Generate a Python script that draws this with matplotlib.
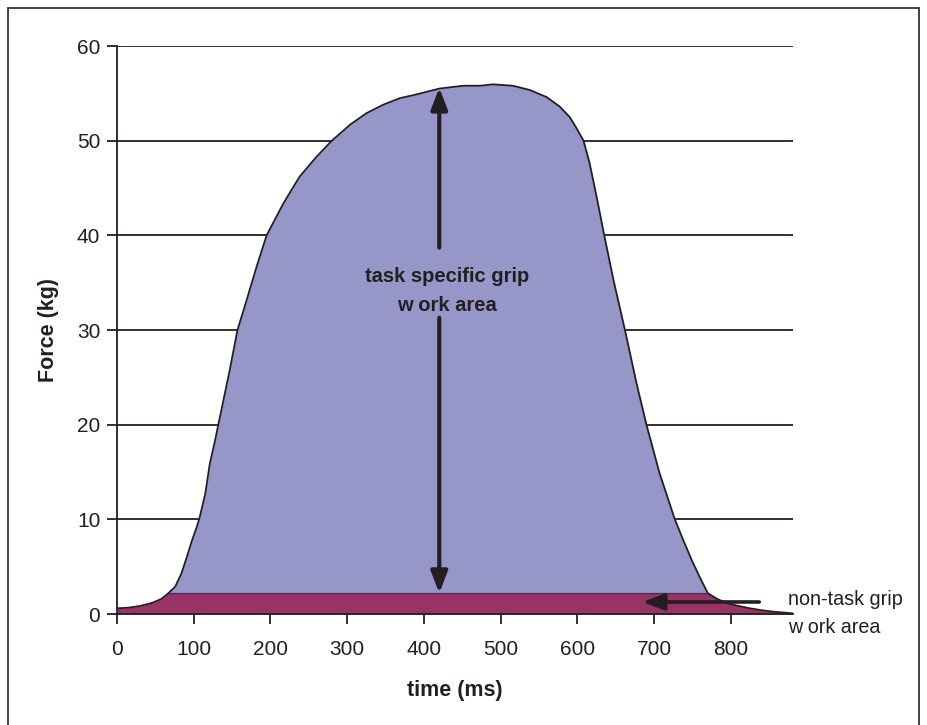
import matplotlib
matplotlib.use('Agg')
import matplotlib.pyplot as plt
from matplotlib.patches import Rectangle
import numpy as np

# Force trace (time in ms, force in kg)
timeMs = [0, 15, 30, 45, 58, 67, 76, 84, 91, 97, 104, 108, 115, 121, 128,
          132, 138, 147, 157, 165, 182, 195, 217, 238, 260, 280, 304, 325,
          347, 369, 386, 420, 451, 473, 490, 516, 538, 560, 577, 590, 599,
          608, 616, 625, 635, 647, 662, 677, 690, 707, 727, 738, 749, 760,
          770, 782, 795, 810, 825, 840, 855, 880]
forceKg = [0.6, 0.67, 0.85, 1.15, 1.6, 2.2, 2.9, 4.3, 6.0, 7.6, 9.2, 10.3,
           12.7, 15.9, 18.4, 20, 22.3, 25.8, 30, 32.1, 36.7, 40, 43.4, 46.2,
           48.3, 50, 51.7, 52.9, 53.8, 54.5, 54.8, 55.5, 55.8, 55.8, 55.95,
           55.8, 55.35, 54.6, 53.6, 52.5, 51.3, 50, 47.6, 44.1, 40, 35.3, 30,
           24.4, 20, 14.9, 10, 7.8, 5.7, 3.8, 2.2, 1.6, 1.13, 0.85, 0.6, 0.4,
           0.25, 0.07]
nonTaskLevel = 2.2

xTicks = [0, 100, 200, 300, 400, 500, 600, 700, 800]
yTicks = [0, 10, 20, 30, 40, 50, 60]

blueFill = '#9696C8'
magentaFill = '#993366'
ink = '#231F20'

fontFam = ['Liberation Sans', 'DejaVu Sans']
plt.rcParams['font.family'] = fontFam

fig = plt.figure(figsize=(9.28, 7.25), dpi=100)
ax = fig.add_axes([117/928, 111/725, 676/928, 568/725])

t = np.array(timeMs, dtype=float)
f = np.array(forceKg, dtype=float)

# Non-task area (magenta) and task specific area (blue)
ax.fill_between(t, 0, np.minimum(f, nonTaskLevel), color=magentaFill,
                lw=0, zorder=2)
ax.fill_between(t, nonTaskLevel, f, where=f >= nonTaskLevel,
                color=blueFill, lw=0, zorder=2)
taskX = t[f >= nonTaskLevel]
ax.plot([taskX.min(), taskX.max()], [nonTaskLevel, nonTaskLevel],
        color='#3a3550', lw=0.9, zorder=3)
ax.plot(t, f, color=ink, lw=1.3, zorder=4, clip_on=False,
        solid_joinstyle='round')

# Arrows
arrowX = 420
vStyle = '-|>,head_width=0.5,head_length=1.3'
ax.annotate('', xy=(arrowX, 55.6), xytext=(arrowX, 38.7),
            arrowprops=dict(arrowstyle=vStyle, color=ink, lw=3,
                            shrinkA=0, shrinkB=0), zorder=5)
ax.annotate('', xy=(arrowX, nonTaskLevel), xytext=(arrowX, 31.3),
            arrowprops=dict(arrowstyle=vStyle, color=ink, lw=3,
                            shrinkA=0, shrinkB=0), zorder=5)
ax.annotate('', xy=(685, 1.27), xytext=(837, 1.27),
            arrowprops=dict(arrowstyle='-|>,head_width=0.5,head_length=1.3',
                            color=ink, lw=2.6, shrinkA=0, shrinkB=0),
            zorder=5, annotation_clip=False)

ax.text(430, 34.1, 'task specific grip\nw ork area', ha='center', va='center',
        fontsize=14.5, fontweight='bold', color=ink, linespacing=1.7, zorder=6)
ax.text(788/928, (725 - 613.5)/725, 'non-task grip\nw ork area',
        transform=fig.transFigure, ha='left', va='center', fontsize=14.2,
        color=ink, linespacing=1.65)

# Axes styling
ax.set_xlim(0, 881)
ax.set_ylim(0, 60)
ax.set_xticks(xTicks)
ax.set_yticks(yTicks)
ax.grid(axis='y', color=ink, lw=1.3)
ax.set_axisbelow(True)
for side in ['top', 'right']:
    ax.spines[side].set_visible(False)
for side in ['left', 'bottom']:
    ax.spines[side].set_color(ink)
    ax.spines[side].set_linewidth(1.3)
ax.spines['bottom'].set_zorder(5)
ax.tick_params(axis='both', direction='out', length=7, width=1.3, color=ink,
               labelsize=15, labelcolor=ink)
ax.tick_params(axis='x', pad=12)
ax.tick_params(axis='y', pad=5)
ax.set_xlabel('time (ms)', fontsize=15.5, fontweight='bold', color=ink,
              labelpad=15)
ax.set_ylabel('Force (kg)', fontsize=15.5, fontweight='bold', color=ink,
              labelpad=13)

# Outer chart border
fig.patches.append(Rectangle((8/928, -0.01), 911/928, 1.01 - 8/725,
                             transform=fig.transFigure, fill=False,
                             edgecolor='#333333', lw=1.3))

plt.savefig('out.png', dpi=100)
